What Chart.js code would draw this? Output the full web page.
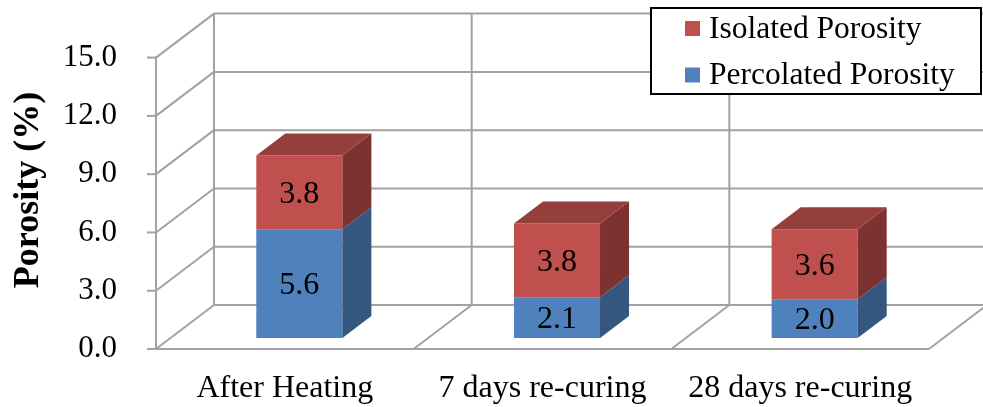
<!DOCTYPE html>
<html>
<head>
<meta charset="utf-8">
<script src="https://cdn.jsdelivr.net/npm/chart.js@4.4.1/dist/chart.umd.min.js"></script>
<style>
  html, body { margin: 0; padding: 0; background: #ffffff; }
  #wrap { width: 983px; height: 407px; position: relative; }
</style>
</head>
<body>
<div id="wrap"><canvas id="chart"></canvas></div>
<script>
// Porosity measurements (%)
const categories = ['After Heating', '7 days re-curing', '28 days re-curing'];
const percolatedPorosity = [5.6, 2.1, 2.0];
const isolatedPorosity = [3.8, 3.8, 3.6];
const yTicks = [0, 3, 6, 9, 12, 15];
const yTitle = 'Porosity (%)';

const SERIF = '"Liberation Serif", "Times New Roman", Times, serif';
const GRID = '#A2A2A2';

// 3-D box: depth of the walls and where the bars sit inside it
const WALL_DX = 58, WALL_DY = -44;
const BAR_FRONT = 0.25, BAR_DEPTH = 0.5;

const shades = {
  '#C0504D': { top: '#953F3D', side: '#7C3230' },
  '#4F81BD': { top: '#3E6694', side: '#35567F' }
};

const line = (ctx, x1, y1, x2, y2) => {
  ctx.beginPath(); ctx.moveTo(x1, y1); ctx.lineTo(x2, y2); ctx.stroke();
};

const box3d = {
  id: 'box3d',
  beforeDatasetsDraw(chart) {
    const { ctx, chartArea: a, scales: { x, y } } = chart;
    const y0 = y.getPixelForValue(y.min);
    const yTop = y.getPixelForValue(y.max);
    ctx.save();
    ctx.strokeStyle = GRID;
    ctx.lineWidth = 2;
    y.ticks.forEach(t => {
      const py = y.getPixelForValue(t.value);
      line(ctx, a.left + WALL_DX, py + WALL_DY, a.right + WALL_DX + 4, py + WALL_DY); // back wall
      line(ctx, a.left, py, a.left + WALL_DX, py + WALL_DY);                       // side wall
      line(ctx, a.left - 9, py, a.left, py);                                          // tick mark
    });
    line(ctx, a.left + WALL_DX, y0 + WALL_DY, a.left + WALL_DX, yTop + WALL_DY);
    line(ctx, a.left, y0 + 1, a.left, yTop - 1);
    // floor
    line(ctx, a.left, y0, a.right, y0);
    line(ctx, a.right, y0, a.right + WALL_DX, y0 + WALL_DY);
    for (let i = 1; i < categories.length; i++) {
      const px = (x.getPixelForValue(i - 1) + x.getPixelForValue(i)) / 2;
      line(ctx, px, y0, px + WALL_DX, y0 + WALL_DY);
      line(ctx, px + WALL_DX, y0 + WALL_DY, px + WALL_DX, yTop + WALL_DY);
    }
    ctx.restore();
    // bar fronts sit a quarter of the way into the box
    ctx.save();
    ctx.translate(WALL_DX * BAR_FRONT, WALL_DY * BAR_FRONT);
  },
  afterDatasetsDraw(chart) {
    const { ctx } = chart;
    ctx.restore();
    const ox = WALL_DX * BAR_FRONT, oy = WALL_DY * BAR_FRONT;
    const bdx = WALL_DX * BAR_DEPTH, bdy = WALL_DY * BAR_DEPTH;
    const n = chart.data.datasets.length;
    ctx.save();
    chart.data.datasets.forEach((ds, di) => {
      const meta = chart.getDatasetMeta(di);
      const sh = shades[ds.backgroundColor];
      meta.data.forEach(el => {
        const x1 = el.x - el.width / 2 + ox, x2 = el.x + el.width / 2 + ox;
        const yt = el.y + oy, yb = el.base + oy;
        ctx.fillStyle = sh.side;
        ctx.beginPath();
        ctx.moveTo(x2, yt); ctx.lineTo(x2 + bdx, yt + bdy);
        ctx.lineTo(x2 + bdx, yb + bdy); ctx.lineTo(x2, yb);
        ctx.closePath(); ctx.fill();
        if (di === n - 1) {
          ctx.fillStyle = sh.top;
          ctx.beginPath();
          ctx.moveTo(x1, yt); ctx.lineTo(x2, yt);
          ctx.lineTo(x2 + bdx, yt + bdy); ctx.lineTo(x1 + bdx, yt + bdy);
          ctx.closePath(); ctx.fill();
        }
      });
    });
    // value labels on the front faces
    ctx.fillStyle = '#000';
    ctx.font = '32px ' + SERIF;
    ctx.textAlign = 'center';
    ctx.textBaseline = 'middle';
    chart.data.datasets.forEach((ds, di) => {
      chart.getDatasetMeta(di).data.forEach((el, i) => {
        ctx.fillText(ds.data[i].toFixed(1), el.x + ox, (el.y + el.base) / 2 + oy + 2);
      });
    });
    ctx.restore();
  }
};

// rotated y-axis title beside the tick labels
const axisTitle = {
  id: 'axisTitle',
  afterDraw(chart) {
    const { ctx } = chart;
    ctx.save();
    ctx.translate(29, 190);
    ctx.rotate(-Math.PI / 2);
    ctx.fillStyle = '#000';
    ctx.font = 'bold 36px ' + SERIF;
    ctx.textAlign = 'center';
    ctx.textBaseline = 'middle';
    ctx.fillText(yTitle, 0, 0);
    ctx.restore();
  }
};

const boxedLegend = {
  id: 'boxedLegend',
  afterDraw(chart) {
    const { ctx } = chart;
    ctx.save();
    ctx.fillStyle = '#fff';
    ctx.fillRect(651, 8, 330, 86);
    ctx.strokeStyle = '#000';
    ctx.lineWidth = 2;
    ctx.strokeRect(651, 8, 330, 86);
    ctx.font = '31.5px ' + SERIF;
    ctx.textAlign = 'left';
    ctx.textBaseline = 'middle';
    chart.data.datasets.slice().reverse().forEach((ds, i) => {
      const cy = 28.5 + i * 46.5;
      ctx.fillStyle = ds.backgroundColor;
      ctx.fillRect(685, cy - 7.5, 15, 15);
      ctx.fillStyle = '#000';
      ctx.fillText(ds.label, 709, cy + 1);
    });
    ctx.restore();
  }
};

new Chart(document.getElementById('chart'), {
  type: 'bar',
  data: {
    labels: categories,
    datasets: [
      { label: 'Percolated Porosity', data: percolatedPorosity, backgroundColor: '#4F81BD', borderWidth: 0 },
      { label: 'Isolated Porosity', data: isolatedPorosity, backgroundColor: '#C0504D', borderWidth: 0 }
    ]
  },
  options: {
    responsive: true,
    maintainAspectRatio: false,
    animation: false,
    layout: { padding: { top: 52, right: 54, left: 0, bottom: 0 } },
    categoryPercentage: 1,
    barPercentage: 0.334,
    plugins: { legend: { display: false }, tooltip: { enabled: false } },
    scales: {
      x: {
        stacked: true,
        grid: { display: false, drawTicks: false },
        border: { display: false },
        ticks: { color: '#000', font: { family: SERIF, size: 32 }, padding: 20, maxRotation: 0, autoSkip: false },
        afterFit(scale) { scale.height = 58; }
      },
      y: {
        stacked: true,
        min: yTicks[0],
        max: yTicks[yTicks.length - 1],
        afterBuildTicks(scale) { scale.ticks = yTicks.map(v => ({ value: v })); },
        grid: { display: false, drawTicks: false },
        border: { display: false },
        ticks: { color: '#000', font: { family: SERIF, size: 31 }, padding: 39, callback: v => Number(v).toFixed(1) },
        afterFit(scale) { scale.width = 156; }
      }
    }
  },
  plugins: [box3d, axisTitle, boxedLegend]
});
</script>
</body>
</html>
